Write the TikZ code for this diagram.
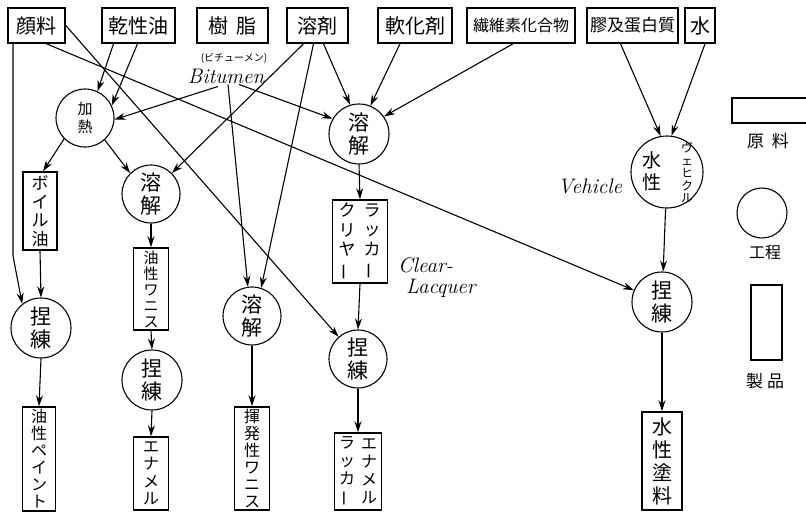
\documentclass[tikz,border=0pt]{standalone}
\usepackage{fontspec}
\usepackage{graphicx}
\newfontfamily\jp{Noto Sans CJK JP}
\usetikzlibrary{arrows.meta}
\newcommand{\chon}{\rotatebox[origin=c]{90}{ー}}
\tikzset{
  raw/.style={draw, rectangle, line width=1.6pt, inner sep=0pt, minimum height=35pt, font=\jp\fontsize{20}{22}\selectfont},
  proc/.style={draw, circle, line width=1.1pt, inner sep=0pt, align=center, font=\jp\fontsize{21}{23}\selectfont},
  prod/.style={draw, rectangle, line width=1.5pt, inner sep=0pt, align=center, font=\jp\fontsize{16}{17}\selectfont},
  lbl/.style={inner sep=0pt, align=center},
  arr/.style={line width=1.1pt, -{Stealth[length=11pt,width=7pt]}},
}
\begin{document}
\begin{tikzpicture}[x=1pt,y=-1pt]
\useasboundingbox (0,0) rectangle (806,512);
\clip (0,0) rectangle (806,512);
\fill[white] (0,0) rectangle (806,512);

% raw materials
\node[raw, minimum width=57pt]  (pig)   at (36.5,25.5)  {顔料};
\node[raw, minimum width=73pt]  (dry)   at (138.5,25.5) {乾性油};
\node[raw, minimum width=71pt]  (res)   at (232.5,25.5) {樹\hspace{8pt}脂};
\node[raw, minimum width=61pt]  (sol)   at (317.5,25.5) {溶剤};
\node[raw, minimum width=74pt]  (soft)  at (415,25.5)   {軟化剤};
\node[raw, minimum width=108pt, font=\jp\fontsize{16}{18}\selectfont] (cell) at (521,25.5) {繊維素化合物};
\node[raw, minimum width=91pt, font=\jp\fontsize{17}{19}\selectfont]  (glue) at (632.5,25.5) {膠及蛋白質};
\node[raw, minimum width=30pt]  (water) at (700,25.5)   {水};

% Bitumen label
\node[lbl, font=\jp\fontsize{10}{11}\selectfont] (bitj) at (234,58) {(ビチューメン)};
\node[lbl, font=\itshape\fontsize{21}{22}\selectfont] (bit) at (226,76) {Bitumen};

% processes
\node[proc, minimum size=58pt, font=\jp\fontsize{15}{18}\selectfont] (heat) at (85,118) {加\\熱};
\node[proc, minimum size=58pt] (dis2) at (151,194) {溶\\解};
\node[proc, minimum size=60pt] (dis1) at (359,134) {溶\\解};
\node[proc, minimum size=72pt] (veh)  at (667,172) {};
\node[lbl, font=\jp\fontsize{19}{22}\selectfont] (vehA) at (652,171) {水\\性};
\node[lbl, font=\jp\fontsize{12}{12.5}\selectfont] (vehB) at (687,173) {ヴ\\ェ\\ヒ\\ク\\ル};
\node[proc, minimum size=60pt] (k1)   at (41,328)  {捏\\練};
\node[proc, minimum size=60pt] (k2)   at (152,380) {捏\\練};
\node[proc, minimum size=58pt] (dis3) at (252,316) {溶\\解};
\node[proc, minimum size=58pt] (k4)   at (358,359) {捏\\練};
\node[proc, minimum size=60pt] (k5)   at (662,302) {捏\\練};

% intermediate / products
\node[prod, minimum width=34pt, minimum height=78pt, font=\jp\fontsize{17}{18.5}\selectfont] (boil) at (40,211) {ボ\\イ\\ル\\油};
\node[prod, minimum width=35pt, minimum height=82pt, font=\jp\fontsize{15}{16}\selectfont] (ov) at (151,289) {油\\性\\ワ\\ニ\\ス};
\node[prod, minimum width=55pt, minimum height=83pt] (lc) at (360,241.5) {};
\node[lbl, font=\jp\fontsize{17}{19.5}\selectfont] (lcA) at (372,241.5) {ラ\\ッ\\カ\\\chon};
\node[lbl, font=\jp\fontsize{17}{19.5}\selectfont] (lcB) at (347,241.5) {ク\\リ\\ヤ\\\chon};
\node[prod, minimum width=33pt, minimum height=104pt] (op) at (39,459) {油\\性\\ペ\\イ\\ン\\ト};
\node[prod, minimum width=35pt, minimum height=73pt, font=\jp\fontsize{16}{17.5}\selectfont] (en) at (151,473.5) {エ\\ナ\\メ\\ル};
\node[prod, minimum width=35pt, minimum height=103pt] (vv) at (252,458.5) {揮\\発\\性\\ワ\\ニ\\ス};
\node[prod, minimum width=47pt, minimum height=77pt] (el) at (358,471.5) {};
\node[lbl, font=\jp\fontsize{16}{18}\selectfont] (elA) at (369,471.5) {エ\\ナ\\メ\\ル};
\node[lbl, font=\jp\fontsize{16}{18}\selectfont] (elB) at (347,471.5) {ラ\\ッ\\カ\\\chon};
\node[prod, minimum width=40pt, minimum height=98pt, font=\jp\fontsize{20}{23}\selectfont] (ws) at (662,461) {水\\性\\塗\\料};

% other labels
\node[lbl, font=\itshape\fontsize{21}{22}\selectfont] (vehl) at (590,186) {Vehicle};
\node[lbl, font=\itshape\fontsize{21}{22}\selectfont, anchor=west] (cl1) at (398,265) {Clear-};
\node[lbl, font=\itshape\fontsize{21}{22}\selectfont, anchor=west] (cl2) at (406,288) {Lacquer};

% legend
\node[draw, line width=1.3pt, minimum width=80pt, minimum height=25pt] (lgraw) at (772,110.5) {};
\node[lbl, font=\jp\fontsize{17}{19}\selectfont] (lgrawt) at (768,141) {原\hspace{8pt}料};
\node[draw, circle, line width=1.1pt, minimum size=50pt] (lgproc) at (762,213) {};
\node[lbl, font=\jp\fontsize{16}{18}\selectfont] (lgproct) at (765,253) {工程};
\node[draw, line width=1.3pt, minimum width=31pt, minimum height=75pt] (lgprod) at (766.5,322.5) {};
\node[lbl, font=\jp\fontsize{17}{19}\selectfont] (lgprodt) at (765,381) {製\hspace{4pt}品};

% connectors from raw materials
\draw[arr] ([xshift=-23.5pt]pig.south) -- ++(0,212) -- (k1.128);
\draw[arr] (pig.east) -- (k4);
\draw[arr] ([xshift=10pt]pig.south) -- (k5);
\draw[arr] ([xshift=-25pt]dry.south) -- (heat.65);
\draw[arr] ([xshift=-1pt]dry.south) -- (heat.25);
\draw[arr] ([xshift=-8pt,yshift=-3pt]bit.south) -- (heat.-3);
\draw[arr] ([xshift=2pt,yshift=-1pt]bit.south) -- (dis3.98);
\draw[arr] ([xshift=13pt,yshift=-1pt]bit.south) -- (dis1.150);
\draw[arr] ([xshift=-14pt]sol.south) -- (dis2.45);
\draw[arr] ([xshift=-4pt]sol.south) -- (dis3.72);
\draw[arr] ([xshift=6pt]sol.south) -- (dis1.107);
\draw[arr] ([xshift=-15pt]soft.south) -- (dis1.68);
\draw[arr] ([xshift=-8pt]cell.south) -- (dis1.35);
\draw[arr] ([xshift=-12pt]glue.south) -- (veh.100);
\draw[arr] ([xshift=5pt]water.south) -- (veh.83);

% process flow
\draw[arr] (heat.225) -- ([xshift=3pt]boil.north);
\draw[arr] (heat.-48) -- (dis2.135);
\draw[arr] (boil.south) -- (k1.north);
\draw[arr] (k1.south) -- (op.north);
\draw[arr] (dis2.south) -- (ov.north);
\draw[arr] (ov.south) -- (k2.north);
\draw[arr] (k2.south) -- (en.north);
\draw[arr] (dis3.south) -- (vv.north);
\draw[arr] (dis1.south) -- (lc.north);
\draw[arr] (lc.south) -- (k4.north);
\draw[arr] (k4.south) -- (el.north);
\draw[arr] (veh) -- (k5);
\draw[arr] (k5.south) -- (ws.north);
\end{tikzpicture}
\end{document}
